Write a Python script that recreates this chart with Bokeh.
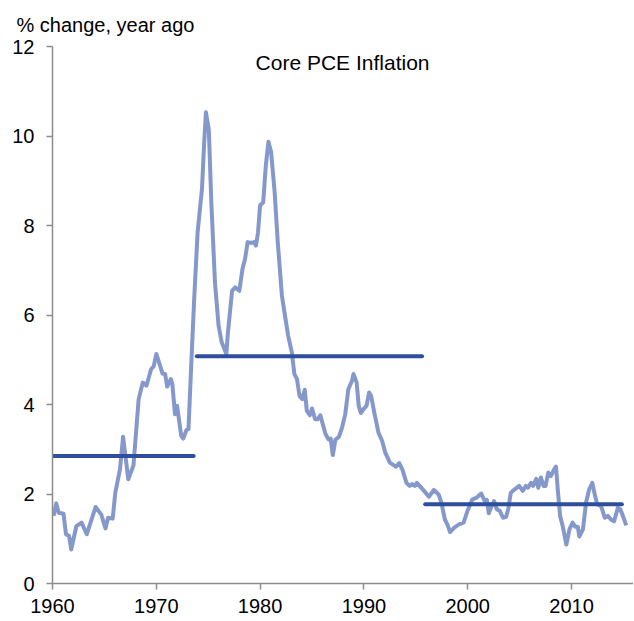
from bokeh.plotting import figure
from bokeh.models import Range1d, Label, FixedTicker, Title
from bokeh.embed import file_html
from bokeh.resources import INLINE

# Core PCE inflation, % change year ago
years = [1960.1, 1960.36, 1960.6, 1961.06, 1961.3, 1961.6, 1961.8, 1962.3, 1962.8, 1963.3,
         1964.15, 1964.7, 1965.1, 1965.35, 1965.8, 1966.05, 1966.5, 1966.8, 1967.3, 1967.8,
         1968.3, 1968.7, 1969.05, 1969.5, 1969.75, 1970.0, 1970.6, 1970.85, 1971.05, 1971.4,
         1971.55, 1971.8, 1972.0, 1972.4, 1972.6, 1972.9, 1973.1, 1973.35, 1973.65, 1973.98,
         1974.4, 1974.6, 1974.78, 1975.06, 1975.3, 1975.65, 1976.0, 1976.3, 1976.75, 1976.9,
         1977.3, 1977.6, 1978.0, 1978.3, 1978.55, 1978.8, 1979.1, 1979.4, 1979.6, 1979.8,
         1980.0, 1980.3, 1980.55, 1980.8, 1981.06, 1981.4, 1981.7, 1982.1, 1982.4, 1982.7,
         1983.06, 1983.3, 1983.55, 1983.8, 1984.06, 1984.3, 1984.5, 1984.8, 1985.0, 1985.3,
         1985.55, 1985.8, 1986.3, 1986.6, 1986.8, 1987.0, 1987.25, 1987.6, 1987.9, 1988.2,
         1988.5, 1988.85, 1989.0, 1989.3, 1989.5, 1989.7, 1990.0, 1990.25, 1990.5, 1990.7,
         1991.0, 1991.4, 1991.75, 1992.05, 1992.5, 1992.9, 1993.1, 1993.4, 1993.7, 1994.1,
         1994.4, 1994.65, 1994.9, 1995.1, 1995.45, 1995.8, 1996.26, 1996.74, 1997.2, 1997.46,
         1997.8, 1998.04, 1998.3, 1998.7, 1999.16, 1999.6, 1999.97, 2000.45, 2000.87, 2001.3,
         2001.65, 2001.84, 2002.03, 2002.3, 2002.54, 2002.8, 2003.1, 2003.4, 2003.7, 2003.9,
         2004.15, 2004.5, 2004.96, 2005.3, 2005.6, 2005.8, 2006.1, 2006.3, 2006.6, 2006.8,
         2007.05, 2007.3, 2007.5, 2007.76, 2008.0, 2008.3, 2008.5, 2008.7, 2008.9, 2009.15,
         2009.5, 2009.8, 2010.1, 2010.35, 2010.6, 2010.75, 2011.1, 2011.4, 2011.7, 2012.0,
         2012.2, 2012.46, 2012.85, 2013.2, 2013.5, 2013.8, 2014.1, 2014.46, 2014.7, 2014.95,
         2015.27]
core_pce = [1.51, 1.79, 1.58, 1.56, 1.10, 1.06, 0.76, 1.28, 1.36, 1.10,
            1.71, 1.54, 1.23, 1.47, 1.45, 2.03, 2.55, 3.28, 2.33, 2.64,
            4.12, 4.49, 4.42, 4.79, 4.85, 5.13, 4.69, 4.68, 4.40, 4.57,
            4.45, 3.78, 3.97, 3.30, 3.24, 3.43, 3.45, 4.80, 6.36, 7.85,
            8.82, 9.79, 10.53, 10.14, 8.52, 6.73, 5.76, 5.39, 5.13, 5.61,
            6.54, 6.62, 6.54, 7.03, 7.25, 7.63, 7.61, 7.63, 7.55, 7.85,
            8.45, 8.52, 9.34, 9.87, 9.64, 8.75, 7.63, 6.43, 5.98, 5.54,
            5.16, 4.68, 4.57, 4.19, 4.12, 4.33, 3.86, 3.76, 3.91, 3.67,
            3.67, 3.76, 3.34, 3.22, 3.24, 2.87, 3.21, 3.28, 3.49, 3.78,
            4.34, 4.53, 4.68, 4.49, 3.97, 3.81, 3.91, 3.97, 4.27, 4.19,
            3.82, 3.37, 3.19, 2.93, 2.70, 2.64, 2.61, 2.69, 2.55, 2.25,
            2.18, 2.22, 2.18, 2.25, 2.16, 2.07, 1.94, 2.09, 1.99, 1.81,
            1.43, 1.32, 1.15, 1.25, 1.32, 1.36, 1.62, 1.88, 1.92, 2.01,
            1.84, 1.87, 1.57, 1.73, 1.84, 1.66, 1.62, 1.47, 1.49, 1.66,
            2.03, 2.10, 2.18, 2.07, 2.18, 2.14, 2.25, 2.18, 2.34, 2.14,
            2.37, 2.18, 2.18, 2.48, 2.40, 2.54, 2.61, 2.03, 1.51, 1.28,
            0.87, 1.21, 1.36, 1.27, 1.27, 1.05, 1.21, 1.81, 2.10, 2.25,
            2.03, 1.77, 1.73, 1.47, 1.51, 1.43, 1.39, 1.69, 1.66, 1.51,
            1.30]

# Period averages
avg_start = [1960.0, 1973.9, 1995.9]
avg_end = [1973.6, 1995.6, 2014.85]
avg_value = [2.85, 5.08, 1.77]

x_ticks = [1960, 1970, 1980, 1990, 2000, 2010]
y_ticks = [0, 2, 4, 6, 8, 10, 12]

FONT = "Liberation Sans"

p = figure(frame_width=581, frame_height=537, output_backend="svg", toolbar_location=None,
           x_range=Range1d(1960, 2015.97), y_range=Range1d(0, 12),
           min_border_left=52, min_border_right=0, min_border_top=46, min_border_bottom=37)
p.outline_line_color = None
p.xgrid.visible = False
p.ygrid.visible = False

p.title = Title(text="% change, year ago", align="left", offset=-36, standoff=22,
                text_font=FONT, text_font_size="20px", text_font_style="normal",
                text_color="#000000")

p.line(years, core_pce, line_color="#8498CB", line_width=4, line_join="round")
p.segment(x0=avg_start, y0=avg_value, x1=avg_end, y1=avg_value,
          line_color="#2E4E9E", line_width=4, line_cap="round")

for ax in (p.xaxis[0], p.yaxis[0]):
    ax.axis_line_color = "#8C8C8C"
    ax.axis_line_width = 1.5
    ax.major_tick_line_color = "#8C8C8C"
    ax.major_tick_line_width = 1.5
    ax.major_tick_out = 6
    ax.major_tick_in = 0
    ax.minor_tick_line_color = None
    ax.major_label_text_font = FONT
    ax.major_label_text_font_size = "20px"
    ax.major_label_text_color = "#000000"

p.xaxis[0].ticker = FixedTicker(ticks=x_ticks)
p.yaxis[0].ticker = FixedTicker(ticks=y_ticks)
p.xaxis[0].major_label_standoff = 9
p.yaxis[0].major_label_standoff = 12

p.add_layout(Label(x=1987.94, y=11.64, text="Core PCE Inflation", text_font=FONT,
                   text_font_size="21px", text_color="#000000", text_align="center",
                   text_baseline="alphabetic"))

open("out.html", "w").write(file_html(p, INLINE))
